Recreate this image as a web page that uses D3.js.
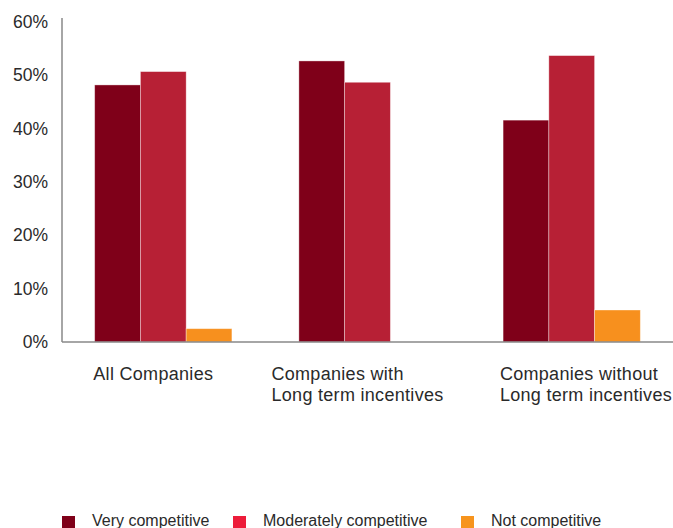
<!DOCTYPE html>
<html>
<head>
<meta charset="utf-8">
<script src="https://cdn.jsdelivr.net/npm/d3@7"></script>
<style>
  body { margin: 0; background: #fff; }
  svg { display: block; font-family: "Liberation Sans", Arial, sans-serif; }
</style>
</head>
<body>
<svg id="chart"></svg>
<script>
// categories (each label split into lines)
const categories = ["All Companies", "Companies with\nLong term incentives", "Companies without\nLong term incentives"];
const seriesNames = ["Very competitive", "Moderately competitive", "Not competitive"];
// values in % per series, one per category
const veryCompetitive = [48.2, 52.7, 41.6];
const moderatelyCompetitive = [50.7, 48.7, 53.7];
const notCompetitive = [2.5, 0, 6.0];
const yTicks = [0, 10, 20, 30, 40, 50, 60];

const barColors = ["#7f0019", "#b72035", "#f7901e"];
const legendColors = ["#7f0019", "#ed1c3a", "#f7941d"];

const width = 673, height = 528;
const margin = { top: 22, right: 0, bottom: 186, left: 62 };

const svg = d3.select("#chart").attr("width", width).attr("height", height);

const series = [veryCompetitive, moderatelyCompetitive, notCompetitive];
const rows = categories.map((c, i) => ({ cat: c, values: series.map(s => s[i]) }));

const x0 = d3.scaleBand().domain(categories)
    .range([margin.left, width - margin.right])
    .paddingInner(0.328).paddingOuter(0.16);
const x1 = d3.scaleBand().domain(d3.range(seriesNames.length)).range([0, x0.bandwidth()]);
const y = d3.scaleLinear().domain([0, 60]).range([height - margin.bottom, margin.top]);

// bars
const g = svg.append("g");
g.selectAll("g.grp").data(rows).enter().append("g")
    .attr("transform", d => `translate(${x0(d.cat)},0)`)
    .selectAll("rect").data(d => d.values.map((v, k) => ({ v, k })))
    .enter().filter(d => d.v > 0).append("rect")
    .attr("x", d => x1(d.k))
    .attr("y", d => y(d.v))
    .attr("width", x1.bandwidth())
    .attr("height", d => y(0) - y(d.v))
    .attr("fill", d => barColors[d.k])
    .attr("stroke", "rgba(255,255,255,0.45)")
    .attr("stroke-width", 0.8);

// y axis
const yAxis = svg.append("g")
    .attr("transform", `translate(${margin.left},0)`)
    .call(d3.axisLeft(y).tickValues(yTicks).tickFormat(d => d + "%").tickSize(0).tickPadding(14));
yAxis.select(".domain").remove();
yAxis.selectAll("text").attr("font-size", 17.5).attr("fill", "#2a2a2a").attr("font-family", "Liberation Sans, Arial, sans-serif");

svg.append("line")
    .attr("x1", margin.left).attr("x2", margin.left)
    .attr("y1", margin.top - 4).attr("y2", y(0))
    .attr("stroke", "#888").attr("stroke-width", 1.5);
svg.append("line")
    .attr("x1", margin.left).attr("x2", width)
    .attr("y1", y(0)).attr("y2", y(0))
    .attr("stroke", "#888").attr("stroke-width", 1.5);

// category labels: left-aligned blocks under each group; the last one sits against the right edge
categories.forEach((c, i) => {
    const t = svg.append("text")
        .attr("font-size", 18).attr("letter-spacing", 0.3).attr("fill", "#2a2a2a");
    c.split("\n").forEach((ln, j) => {
        t.append("tspan").attr("x", 0).attr("dy", j === 0 ? 0 : 21).text(ln);
    });
    const w = t.node().getBBox().width;
    let xs = x0(c) + x0.bandwidth() / 2 - w / 2 - 10;
    if (i === categories.length - 1) xs = width - w - 1;
    t.attr("y", y(0) + 38);
    t.selectAll("tspan").attr("x", xs);
});

// legend
const legX = [62, 233, 461];
const leg = svg.append("g");
seriesNames.forEach((s, i) => {
    leg.append("rect")
        .attr("x", legX[i]).attr("y", 516)
        .attr("width", 13).attr("height", 13)
        .attr("fill", legendColors[i]);
    leg.append("text")
        .attr("x", legX[i] + 30).attr("y", 526)
        .attr("font-size", 16).attr("fill", "#2a2a2a")
        .text(s);
});
</script>
</body>
</html>
